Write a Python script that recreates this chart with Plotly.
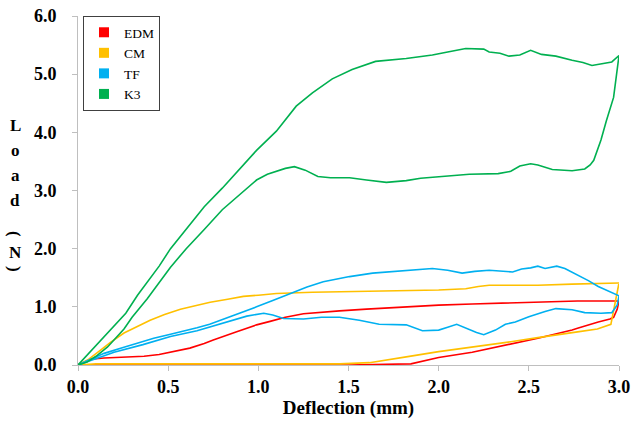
import plotly.graph_objects as go

# ---------------- data ----------------
series_names = ["EDM", "CM", "TF", "K3"]
series_colors = ["#FF0000", "#FFC000", "#00B0F0", "#00B050"]

edm_x = [0, 0.07, 0.145, 0.25, 0.366, 0.45, 0.53, 0.62, 0.70, 0.75, 0.88, 0.99, 1.065, 1.15, 1.25, 1.35,
         1.45, 1.6, 1.82, 2.0, 2.186, 2.4, 2.55, 2.77, 2.9, 3.0,
         2.99, 2.97,
         2.95, 2.885, 2.77, 2.74, 2.55, 2.4, 2.28, 2.186, 2.0, 1.846, 1.5, 1.0, 0.5, 0]
edm_y = [0, 0.10, 0.12, 0.14, 0.15, 0.18, 0.23, 0.29, 0.37, 0.43, 0.57, 0.69, 0.75, 0.82, 0.88, 0.91,
         0.93, 0.96, 1.00, 1.03, 1.05, 1.07, 1.08, 1.10, 1.10, 1.10,
         0.96, 0.82,
         0.79, 0.74, 0.63, 0.60, 0.46, 0.36, 0.29, 0.22, 0.13, 0.02, 0.0, 0.0, 0.0, 0]

cm_x = [0, 0.06, 0.127, 0.18, 0.255, 0.33, 0.40, 0.48, 0.568, 0.65, 0.733, 0.83, 0.917, 1.0, 1.1, 1.3,
        1.506, 1.726, 2.0, 2.15, 2.22, 2.28, 2.46, 2.55, 2.74, 2.9, 3.0,
        2.955,
        2.88, 2.77, 2.65, 2.55, 2.4, 2.28, 2.15, 2.0, 1.82, 1.7, 1.616, 1.45, 1.0, 0.5, 0.1, 0]
cm_y = [0, 0.10, 0.26, 0.39, 0.55, 0.67, 0.77, 0.87, 0.96, 1.02, 1.08, 1.13, 1.18, 1.20, 1.23, 1.25,
        1.26, 1.27, 1.29, 1.31, 1.35, 1.37, 1.37, 1.37, 1.39, 1.40, 1.41,
        0.70,
        0.62, 0.57, 0.52, 0.47, 0.40, 0.35, 0.29, 0.23, 0.14, 0.08, 0.04, 0.02, 0.02, 0.02, 0.02, 0]

tf_x = [0, 0.05, 0.145, 0.25, 0.33, 0.42, 0.513, 0.6, 0.66, 0.73, 0.807, 0.9, 0.99, 1.08, 1.175, 1.27,
        1.36, 1.45, 1.506, 1.634, 1.82, 1.965, 2.05, 2.13, 2.2, 2.28, 2.41, 2.46, 2.51, 2.55, 2.59,
        2.655, 2.70, 2.77, 2.83, 2.885, 2.96, 3.0,
        2.99, 2.96,
        2.90, 2.81, 2.74, 2.65, 2.59, 2.50, 2.425, 2.37, 2.315, 2.25, 2.21, 2.186, 2.13, 2.10, 2.05,
        2.0, 1.91, 1.87, 1.82, 1.67, 1.56, 1.45, 1.35, 1.25, 1.14, 1.08, 1.03, 0.936, 0.807, 0.66,
        0.513, 0.36, 0.2, 0.08, 0]
tf_y = [0, 0.07, 0.20, 0.30, 0.38, 0.46, 0.53, 0.59, 0.64, 0.70, 0.785, 0.89, 1.00, 1.11, 1.23, 1.34,
        1.43, 1.49, 1.52, 1.58, 1.63, 1.66, 1.63, 1.58, 1.61, 1.63, 1.60, 1.65, 1.67, 1.70, 1.66,
        1.70, 1.66, 1.55, 1.45, 1.35, 1.24, 1.19,
        1.03, 0.90,
        0.89, 0.90, 0.95, 0.97, 0.92, 0.83, 0.74, 0.70, 0.60, 0.52, 0.56, 0.59, 0.67, 0.70, 0.65,
        0.60, 0.59, 0.64, 0.69, 0.70, 0.77, 0.82, 0.82, 0.79, 0.80, 0.86, 0.89, 0.84, 0.72, 0.59,
        0.49, 0.35, 0.22, 0.09, 0]

k3_x = [0, 0.1, 0.2, 0.265, 0.33, 0.39, 0.45, 0.513, 0.6, 0.7, 0.8, 0.9, 0.99, 1.1, 1.21, 1.3, 1.41,
        1.52, 1.65, 1.82, 1.965, 2.05, 2.15, 2.25, 2.28, 2.34, 2.39, 2.45, 2.51, 2.57, 2.65, 2.74, 2.8,
        2.85, 2.92, 2.96, 3.0,
        2.97, 2.93, 2.90, 2.86, 2.84,
        2.81, 2.74, 2.63, 2.55, 2.51, 2.45, 2.40, 2.33, 2.17, 2.0, 1.9, 1.82, 1.71, 1.6, 1.506, 1.4,
        1.33, 1.26, 1.2, 1.15, 1.05, 0.99, 0.88, 0.8, 0.7, 0.6, 0.513, 0.45, 0.384, 0.3, 0.255, 0.164,
        0.1, 0.05, 0]
k3_y = [0, 0.33, 0.66, 0.89, 1.20, 1.46, 1.70, 2.00, 2.33, 2.72, 3.04, 3.38, 3.69, 4.02, 4.45, 4.68, 4.92,
        5.08, 5.22, 5.27, 5.33, 5.38, 5.44, 5.43, 5.38, 5.36, 5.31, 5.33, 5.41, 5.34, 5.31, 5.24, 5.20,
        5.15, 5.18, 5.21, 5.32,
        4.60, 4.20, 3.87, 3.52, 3.44,
        3.37, 3.34, 3.36, 3.44, 3.46, 3.42, 3.33, 3.29, 3.28, 3.24, 3.21, 3.17, 3.14, 3.18, 3.22, 3.22,
        3.24, 3.35, 3.41, 3.38, 3.28, 3.18, 2.89, 2.67, 2.33, 2.00, 1.68, 1.42, 1.14, 0.82, 0.62, 0.31,
        0.15, 0.05, 0]

xs = [edm_x, cm_x, tf_x, k3_x]
ys = [edm_y, cm_y, tf_y, k3_y]

x_ticks = [0, 0.5, 1.0, 1.5, 2.0, 2.5, 3.0]
y_ticks = [0, 1, 2, 3, 4, 5, 6]
x_title = "Deflection (mm)"
# vertical stacked title "Load (N)": (char, rotation)
y_title_chars = [("L", 0), ("o", 0), ("a", 0), ("d", 0), ("(", 90), ("N", 0), (")", 90)]
y_title_rows = [125, 150, 175, 200, 234, 252, 269]   # pixel rows

# ---------------- figure ----------------
W, H = 631, 425
ML, MR, MT, MB = 78, 12, 16, 60
serif = "Liberation Serif"

fig = go.Figure()
for name, color, x, y in zip(series_names, series_colors, xs, ys):
    fig.add_trace(go.Scatter(x=x, y=y, mode="lines", name=name, showlegend=False, cliponaxis=False,
                             line=dict(color=color, width=1.6), hoverinfo="skip"))
for name, color in zip(series_names, series_colors):
    fig.add_trace(go.Scatter(x=[None], y=[None], mode="markers", name=name,
                             marker=dict(symbol="square", size=10, color=color)))

axis_common = dict(showgrid=False, zeroline=False, showline=True, linecolor="#BFBFBF", linewidth=1,
                   ticks="outside", ticklen=5, tickcolor="#BFBFBF", tickwidth=1,
                   tickfont=dict(family=serif, size=18, color="black", weight="bold"),
                   tickformat=".1f", ticklabeloverflow="allow", automargin=False)

plot_w = W - ML - MR
plot_h = H - MT - MB
fig.update_layout(
    width=W, height=H, autosize=False,
    margin=dict(l=ML, r=MR, t=MT, b=MB, autoexpand=False),
    paper_bgcolor="white", plot_bgcolor="white",
    xaxis=dict(range=[0, 3], tickvals=x_ticks, **axis_common,
               title=dict(text=x_title, font=dict(family=serif, size=19, color="black", weight="bold"),
                          standoff=2)),
    yaxis=dict(range=[0, 6], tickvals=y_ticks, ticklabelstandoff=12, **axis_common),
    legend=dict(x=5 / plot_w, y=1.0, xanchor="left", yanchor="top",
                bgcolor="white", bordercolor="#404040", borderwidth=1,
                font=dict(family=serif, size=13.5, color="black"),
                tracegroupgap=0, itemwidth=30),
)

for (ch, ang), py in zip(y_title_chars, y_title_rows):
    fig.add_annotation(text=ch, xref="paper", yref="paper", textangle=ang,
                       x=(15 - ML) / plot_w, y=(H - MB - py) / plot_h,
                       xanchor="center", yanchor="middle", showarrow=False,
                       font=dict(family=serif, size=17, color="black", weight="bold"))

fig.write_html("out.html", config={"displayModeBar": False, "responsive": False},
               post_script="document.body.style.margin='0';")
